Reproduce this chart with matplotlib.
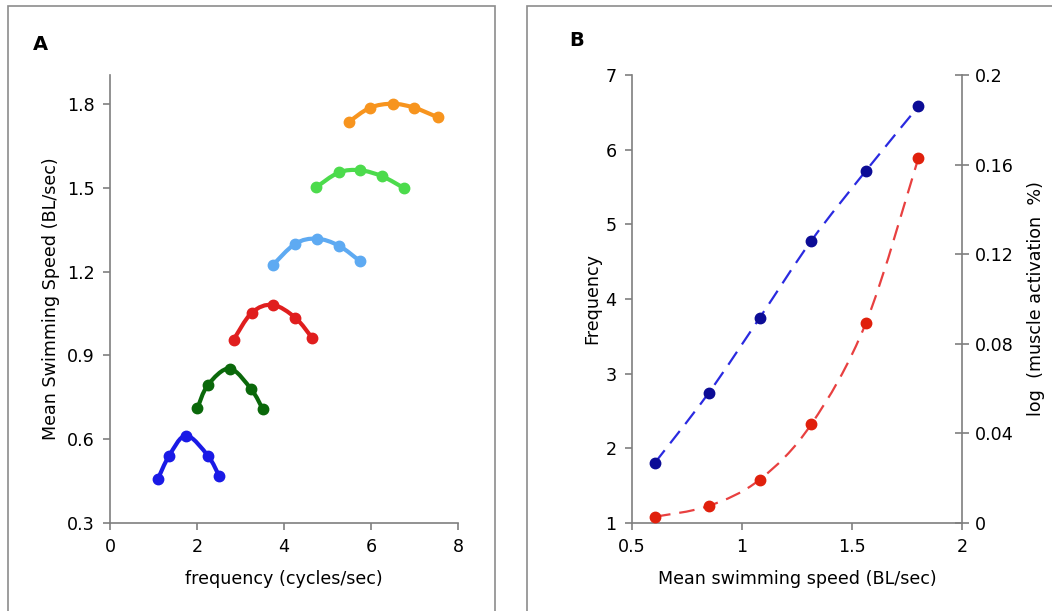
import matplotlib
matplotlib.use('Agg')
import matplotlib.pyplot as plt
from matplotlib.patches import Rectangle, PathPatch
from matplotlib.path import Path

plt.rcParams['font.family'] = ['DejaVu Sans']

# panel A: frequency vs mean swimming speed, one arc per speed group
freq_blue = [1.10, 1.36, 1.75, 2.25, 2.51]
speed_blue = [0.457, 0.541, 0.613, 0.541, 0.468]
freq_dgreen = [2.01, 2.25, 2.75, 3.25, 3.51]
speed_dgreen = [0.711, 0.794, 0.853, 0.778, 0.708]
freq_red = [2.84, 3.26, 3.74, 4.26, 4.65]
speed_red = [0.956, 1.053, 1.081, 1.035, 0.962]
freq_lblue = [3.74, 4.26, 4.75, 5.26, 5.75]
speed_lblue = [1.223, 1.300, 1.318, 1.293, 1.237]
freq_green = [4.74, 5.26, 5.75, 6.26, 6.76]
speed_green = [1.502, 1.555, 1.563, 1.541, 1.499]
freq_orange = [5.49, 5.98, 6.50, 6.99, 7.53]
speed_orange = [1.736, 1.787, 1.801, 1.787, 1.753]

# panel B
mean_speed = [0.605, 0.848, 1.081, 1.315, 1.564, 1.802]
frequency = [1.81, 2.74, 3.75, 4.78, 5.72, 6.58]
log_activation = [0.0028, 0.0076, 0.0194, 0.0441, 0.0895, 0.163]


def smooth_path(xs, ys, t=1 / 6):
    # Excel-style smoothed line: cubic bezier through the points
    verts = [(xs[0], ys[0])]
    codes = [Path.MOVETO]
    n = len(xs)
    for i in range(n - 1):
        x0, y0 = xs[max(i - 1, 0)], ys[max(i - 1, 0)]
        x1, y1 = xs[i], ys[i]
        x2, y2 = xs[i + 1], ys[i + 1]
        x3, y3 = xs[min(i + 2, n - 1)], ys[min(i + 2, n - 1)]
        verts += [(x1 + (x2 - x0) * t, y1 + (y2 - y0) * t),
                  (x2 - (x3 - x1) * t, y2 - (y3 - y1) * t),
                  (x2, y2)]
        codes += [Path.CURVE4] * 3
    return Path(verts, codes)


fig = plt.figure(figsize=(10.52, 6.11), dpi=100)

# gray panel frames
for x0, w in [(8, 487), (527, 540)]:
    fig.patches.append(Rectangle((x0 / 1052, -0.05), w / 1052, (611 - 6) / 611 + 0.05,
                                 transform=fig.transFigure, fill=False,
                                 edgecolor='#8c8c8c', linewidth=1.2))

gray = '#7f7f7f'
fs = 12.6

# ---- panel A ----
ax1 = fig.add_axes([110 / 1052, 88 / 611, 348 / 1052, 448 / 611])
series = [
    (freq_blue, speed_blue, '#1a1ae6'),
    (freq_dgreen, speed_dgreen, '#0a680a'),
    (freq_red, speed_red, '#e01e1e'),
    (freq_lblue, speed_lblue, '#5eaaf2'),
    (freq_green, speed_green, '#4cdb4c'),
    (freq_orange, speed_orange, '#f7941e'),
]
for xs, ys, c in series:
    ax1.add_patch(PathPatch(smooth_path(xs, ys), facecolor='none', edgecolor=c,
                            lw=3, capstyle='round'))
    ax1.plot(xs, ys, ls='none', color=c, marker='o', ms=7.5)
ax1.set_xlim(0, 8)
ax1.set_ylim(0.3, 1.904)
ax1.set_xticks([0, 2, 4, 6, 8])
ax1.set_yticks([0.3, 0.6, 0.9, 1.2, 1.5, 1.8])
ax1.set_yticklabels(['0.3', '0.6', '0.9', '1.2', '1.5', '1.8'])
ax1.set_xlabel('frequency (cycles/sec)', fontsize=fs, labelpad=10)
ax1.set_ylabel('Mean Swimming Speed (BL/sec)', fontsize=fs, labelpad=5)
for s in ['top', 'right']:
    ax1.spines[s].set_visible(False)
for s in ['left', 'bottom']:
    ax1.spines[s].set_color(gray)
    ax1.spines[s].set_linewidth(1.2)
ax1.tick_params(colors=gray, labelcolor='black', labelsize=fs, length=5, width=1.2, pad=6)
fig.text(40 / 1052, 1 - 45 / 611, 'A', fontsize=14, fontweight='bold', ha='center', va='center')

# ---- panel B ----
ax2 = fig.add_axes([632 / 1052, 88 / 611, 330 / 1052, 448 / 611])
ax2.add_patch(PathPatch(smooth_path(mean_speed, frequency), facecolor='none',
                        edgecolor='#2a2ae0', lw=1.6, linestyle=(0, (7, 4)), zorder=1))
ax2.plot(mean_speed, frequency, ls='none', marker='o', ms=7.5, color='#0c0c96', zorder=2)
ax2.set_xlim(0.5, 2)
ax2.set_ylim(1, 7)
ax2.set_xticks([0.5, 1, 1.5, 2])
ax2.set_xticklabels(['0.5', '1', '1.5', '2'])
ax2.set_xlabel('Mean swimming speed (BL/sec)', fontsize=fs, labelpad=10)
ax2.set_ylabel('Frequency', fontsize=fs, labelpad=3)
ax2.spines['top'].set_visible(False)
ax2.spines['right'].set_visible(False)
for s in ['left', 'bottom']:
    ax2.spines[s].set_color(gray)
    ax2.spines[s].set_linewidth(1.2)
ax2.tick_params(colors=gray, labelcolor='black', labelsize=fs, length=5, width=1.2, pad=6)

ax3 = ax2.twinx()
ax3.add_patch(PathPatch(smooth_path(mean_speed, log_activation), facecolor='none',
                        edgecolor='#e84040', lw=1.6, linestyle=(0, (7, 4)), zorder=1))
ax3.plot(mean_speed, log_activation, ls='none', marker='o', ms=7.5, color='#e0200c', zorder=2)
ax3.set_ylim(0, 0.2)
ax3.set_yticks([0, 0.04, 0.08, 0.12, 0.16, 0.2])
ax3.set_yticklabels(['0', '0.04', '0.08', '0.12', '0.16', '0.2'])
ax3.set_ylabel('log  (muscle activation  %)', fontsize=fs, labelpad=10)
for s in ['top', 'left', 'bottom']:
    ax3.spines[s].set_visible(False)
ax3.spines['right'].set_color(gray)
ax3.spines['right'].set_linewidth(1.2)
ax3.tick_params(colors=gray, labelcolor='black', labelsize=fs, length=10, width=1.2,
                direction='inout', pad=4)
fig.text(577 / 1052, 1 - 40 / 611, 'B', fontsize=14, fontweight='bold', ha='center', va='center')

fig.savefig('out.png', dpi=100)
